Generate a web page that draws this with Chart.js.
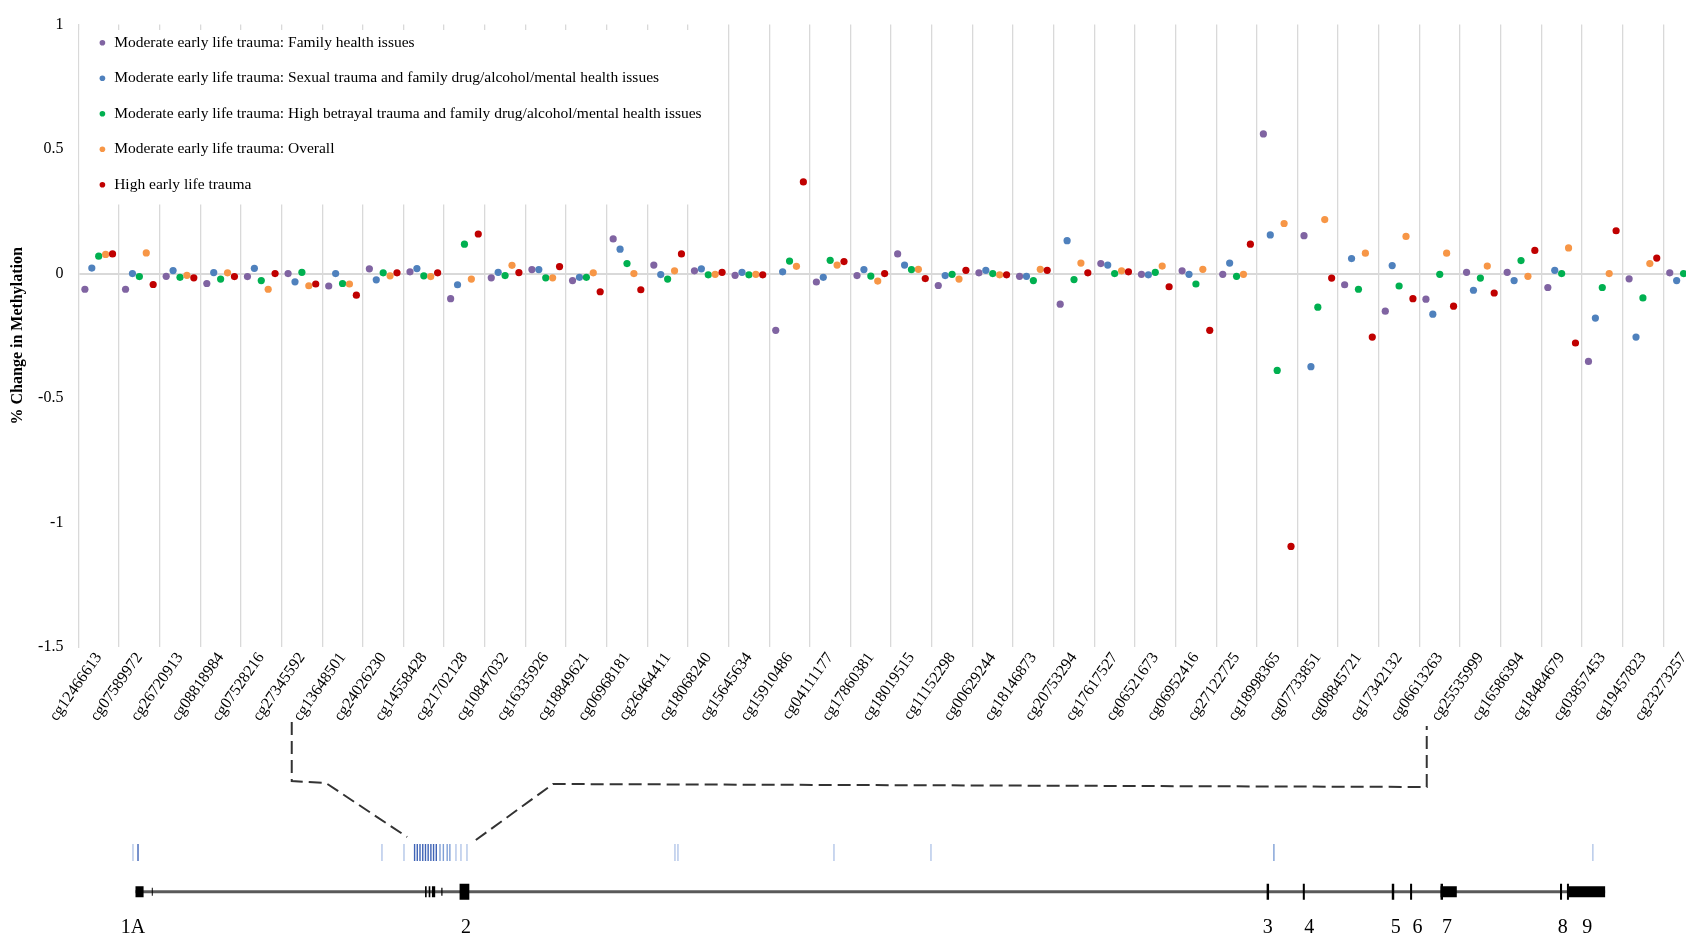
<!DOCTYPE html>
<html>
<head>
<meta charset="utf-8">
<script src="https://cdn.jsdelivr.net/npm/chart.js@4.4.1/dist/chart.umd.min.js"></script>
<style>
  html, body { margin: 0; padding: 0; background: #fff; }
  #wrap { position: relative; width: 1686px; height: 935px; }
  #chart { position: absolute; left: 0; top: 0; }
  #gene { position: absolute; left: 0; top: 700px; }
</style>
</head>
<body>
<div id="wrap">
  <canvas id="chart" width="1686" height="935"></canvas>
  <canvas id="gene" width="1686" height="235"></canvas>
</div>
<script>
// CpG sites along the x axis
const cpgSites = ['cg12466613','cg07589972','cg26720913','cg08818984','cg07528216','cg27345592','cg13648501','cg24026230',
  'cg14558428','cg21702128','cg10847032','cg16335926','cg18849621','cg06968181','cg26464411','cg18068240','cg15645634',
  'cg15910486','cg04111177','cg17860381','cg18019515','cg11152298','cg00629244','cg18146873','cg20753294','cg17617527',
  'cg06521673','cg06952416','cg27122725','cg18998365','cg07733851','cg08845721','cg17342132','cg06613263','cg25535999',
  'cg16586394','cg18484679','cg03857453','cg19457823','cg23273257'];

const seriesNames = [
  'Moderate early life trauma: Family health issues',
  'Moderate early life trauma: Sexual trauma and family drug/alcohol/mental health issues',
  'Moderate early life trauma: High betrayal trauma and family drug/alcohol/mental health issues',
  'Moderate early life trauma: Overall',
  'High early life trauma'
];

// % change in methylation, one value per CpG site
const famHealth = [-0.063,-0.063,-0.011,-0.040,-0.012,0.000,-0.050,0.019,0.007,-0.101,-0.017,0.016,-0.028,0.139,0.034,0.011,
  -0.007,-0.228,-0.034,-0.008,0.079,-0.048,0.003,-0.011,-0.123,0.040,-0.003,0.011,-0.003,0.561,0.152,-0.045,-0.151,-0.103,
  0.005,0.005,-0.056,-0.353,-0.021,0.003];
const sexualTrauma = [0.022,0.000,0.012,0.004,0.021,-0.033,0.000,-0.025,0.020,-0.045,0.005,0.016,-0.015,0.098,-0.004,0.019,
  0.005,0.007,-0.015,0.016,0.034,-0.008,0.013,-0.011,0.132,0.034,-0.005,-0.003,0.042,0.155,-0.374,0.060,0.032,-0.163,
  -0.067,-0.028,0.013,-0.179,-0.255,-0.028];
const betrayalTrauma = [0.070,-0.012,-0.015,-0.022,-0.028,0.005,-0.040,0.003,-0.009,0.118,-0.008,-0.017,-0.015,0.040,-0.022,
  -0.005,-0.005,0.050,0.053,-0.010,0.016,-0.003,0.000,-0.028,-0.024,0.000,0.005,-0.042,-0.011,-0.389,-0.135,-0.063,-0.050,
  -0.003,-0.018,0.052,0.000,-0.056,-0.098,0.000];
const moderateOverall = [0.077,0.083,-0.007,0.003,-0.063,-0.049,-0.042,-0.009,-0.012,-0.022,0.033,-0.017,0.003,0.000,0.011,
  -0.003,-0.003,0.029,0.034,-0.030,0.017,-0.022,-0.005,0.017,0.042,0.011,0.030,0.017,-0.003,0.201,0.217,0.082,0.149,0.082,
  0.030,-0.011,0.103,0.000,0.040,0.040];
const highTrauma = [0.079,-0.044,-0.017,-0.012,0.000,-0.042,-0.087,0.003,0.003,0.159,0.004,0.028,-0.073,-0.065,0.079,0.005,
  -0.005,0.368,0.048,0.000,-0.020,0.013,-0.005,0.013,0.003,0.007,-0.053,-0.228,0.118,-1.096,-0.018,-0.255,-0.101,-0.131,
  -0.078,0.093,-0.279,0.172,0.062,0.020];

// gene diagram, x in the same units as the CpG axis, y in diagram rows
const geneSpan = [1.405, 37.57];
const exonStart = [1.405, 1.806, 8.53, 8.62, 8.70, 8.93, 9.38, 29.24, 30.13, 32.32, 32.77, 33.52, 33.52, 36.46, 36.63, 36.67];
const exonEnd   = [1.604, 1.830, 8.57, 8.66, 8.78, 8.96, 9.62, 29.30, 30.18, 32.38, 32.82, 33.58, 33.92, 36.51, 36.68, 37.57];
const exonKind  = ['box','tick','box','box','box','tick','tall','tall','tall','tall','tall','tall','box','tall','tall','box'];
const exonLabels = ['1A','2','3','4','5','6','7','8','9'];
const exonLabelAt = [1.34, 9.54, 29.27, 30.29, 32.42, 32.95, 33.68, 36.53, 37.13];
const cpgMarksDark = [1.467, 8.273, 8.339, 8.406, 8.474, 8.541, 8.607, 8.674, 8.740, 8.807];
const cpgMarksMid = [8.898, 8.981, 9.075, 9.141, 29.419];
const cpgMarksLight = [1.343, 7.470, 8.012, 9.291, 9.414, 9.562, 14.680, 14.754, 18.593, 20.980, 37.268];
const linkLeft = [[5.25, 2.2], [5.25, 8.1], [6.09, 8.3], [8.09, 13.7]];
const linkRight = [[9.78, 14.0], [11.68, 8.4], [33.18, 8.7], [33.18, 2.6]];

const serif = "'Liberation Serif', 'Times New Roman', serif";
Chart.defaults.font.family = serif;
Chart.defaults.color = '#000';

const allSeries = [famHealth, sexualTrauma, betrayalTrauma, moderateOverall, highTrauma];
const seriesColors = ['#8064a2', '#4f81bd', '#00b050', '#f79646', '#c00000'];
const spread = 0.17;
const legendFont = 15.5, legendPad = 20, legendTitleH = 15;

// white box behind the legend, then the legend again on top of it
const legendBox = {
  id: 'legendBox',
  beforeDatasetsDraw(chart) {
    const lg = chart.legend;
    const ctx = chart.ctx;
    const area = chart.chartArea;
    ctx.save();
    ctx.font = legendFont + 'px ' + serif;
    const widest = Math.max(...seriesNames.map(t => ctx.measureText(t).width));
    const n = seriesNames.length;
    const first = lg.top + legendTitleH + legendPad;
    const top = first - 5;
    const bottom = first + (n - 1) * (legendFont + legendPad) + legendFont + 12;
    const right = lg.left + legendPad + 8 + legendFont / 2 + widest + 8;
    ctx.fillStyle = '#fff';
    ctx.fillRect(area.left + 1, top, right - area.left - 1, bottom - top);
    ctx.restore();
    lg.draw();
  }
};

new Chart(document.getElementById('chart'), {
  type: 'scatter',
  data: {
    datasets: allSeries.map((vals, s) => ({
      label: seriesNames[s],
      data: vals.map((v, i) => ({x: i + 0.5 + (s - 2) * spread, y: v})),
      backgroundColor: seriesColors[s],
      borderColor: seriesColors[s],
      pointRadius: 3.6,
      pointBorderWidth: 0,
      order: allSeries.length - s
    }))
  },
  options: {
    responsive: false,
    animation: false,
    events: [],
    layout: {autoPadding: false, padding: {top: 17, left: 0, right: 0, bottom: 208}},
    plugins: {
      legend: {
        position: 'chartArea',
        align: 'start',
        title: {display: true, text: '', padding: 0, font: {size: legendTitleH, lineHeight: 1}},
        labels: {
          usePointStyle: true, boxWidth: 8, boxHeight: 4, padding: legendPad,
          font: {size: legendFont}, color: '#000',
          sort: (a, b) => a.datasetIndex - b.datasetIndex
        }
      },
      tooltip: {enabled: false}
    },
    scales: {
      x: {
        type: 'linear', min: 0, max: 39.56,
        afterBuildTicks: sc => {
          const t = [];
          cpgSites.forEach((c, i) => {
            t.push({value: i + 0.5});
            if (i + 1 < cpgSites.length) t.push({value: i + 1});
          });
          sc.ticks = t.filter(k => k.value <= sc.max);
        },
        afterFit: sc => { sc.height = 80; sc.paddingLeft = 0; sc.paddingRight = 0; },
        ticks: {
          autoSkip: false, minRotation: 55, maxRotation: 55, padding: 2,
          font: {size: 16},
          callback: v => Number.isInteger(v) ? '' : cpgSites[Math.floor(v)]
        },
        grid: {
          color: c => Number.isInteger(c.tick.value) ? '#d9d9d9' : 'rgba(0,0,0,0)',
          lineWidth: 1.3, drawTicks: false
        },
        border: {display: false}
      },
      y: {
        min: -1.5, max: 1,
        afterFit: sc => { sc.width = 78.4; },
        ticks: {stepSize: 0.5, padding: 15, font: {size: 16}, callback: v => String(v)},
        grid: {
          color: c => c.tick.value === 0 ? '#d9d9d9' : 'rgba(0,0,0,0)',
          lineWidth: 2, drawTicks: false
        },
        border: {color: '#d9d9d9', width: 1.3},
        title: {
          display: true, text: '% Change in Methylation',
          font: {size: 16, weight: 'bold'}, padding: {top: 8, bottom: 0}
        }
      }
    }
  },
  plugins: [legendBox]
});

// gene structure below the chart
const geneRow = 19.17, cpgRow = 15.25;
const exonHeight = {tall: 16, box: 11, tick: 8};
const pts = arr => arr.map(p => ({x: p[0], y: p[1]}));
const marks = (xs, color) => ({
  data: xs.map(x => ({x, y: cpgRow})),
  pointStyle: 'line', pointRotation: 90, pointRadius: 8.5,
  pointBorderColor: color, pointBorderWidth: 1.4, showLine: false
});
const link = arr => ({
  data: pts(arr), showLine: true, pointRadius: 0,
  borderColor: '#333', borderWidth: 2, borderDash: [13, 6], borderJoinStyle: 'miter'
});

new Chart(document.getElementById('gene'), {
  type: 'scatter',
  data: {
    datasets: [
      ...Object.keys(exonHeight).map(kind => ({
        data: exonStart.flatMap((s, i) => exonKind[i] === kind
          ? [{x: s, y: geneRow}, {x: exonEnd[i], y: geneRow}, {x: exonEnd[i], y: null}] : []),
        showLine: true, spanGaps: false, pointRadius: 0,
        borderColor: '#000', borderWidth: exonHeight[kind], borderCapStyle: 'butt'
      })),
      {
        data: geneSpan.map(x => ({x, y: geneRow})), showLine: true, pointRadius: 0,
        borderColor: '#5a5a5a', borderWidth: 3
      },
      marks(cpgMarksDark, '#3e63b6'),
      marks(cpgMarksMid, '#7f9fd6'),
      marks(cpgMarksLight, '#b3c6e8'),
      link(linkLeft),
      link(linkRight)
    ]
  },
  options: {
    responsive: false,
    animation: false,
    events: [],
    layout: {autoPadding: false, padding: {left: 78.4, right: 0, top: 0, bottom: 0}},
    plugins: {legend: {display: false}, tooltip: {enabled: false}},
    scales: {
      x: {
        type: 'linear', min: 0, max: 39.56,
        afterBuildTicks: sc => { sc.ticks = exonLabelAt.map(v => ({value: v})); },
        afterFit: sc => { sc.height = 25; sc.paddingLeft = 0; sc.paddingRight = 0; },
        ticks: {
          autoSkip: false, maxRotation: 0, padding: -2, font: {size: 20},
          callback: (v, i) => exonLabels[i]
        },
        grid: {display: false},
        border: {display: false}
      },
      y: {display: false, min: 0, max: 21, reverse: true}
    }
  }
});
</script>
</body>
</html>
